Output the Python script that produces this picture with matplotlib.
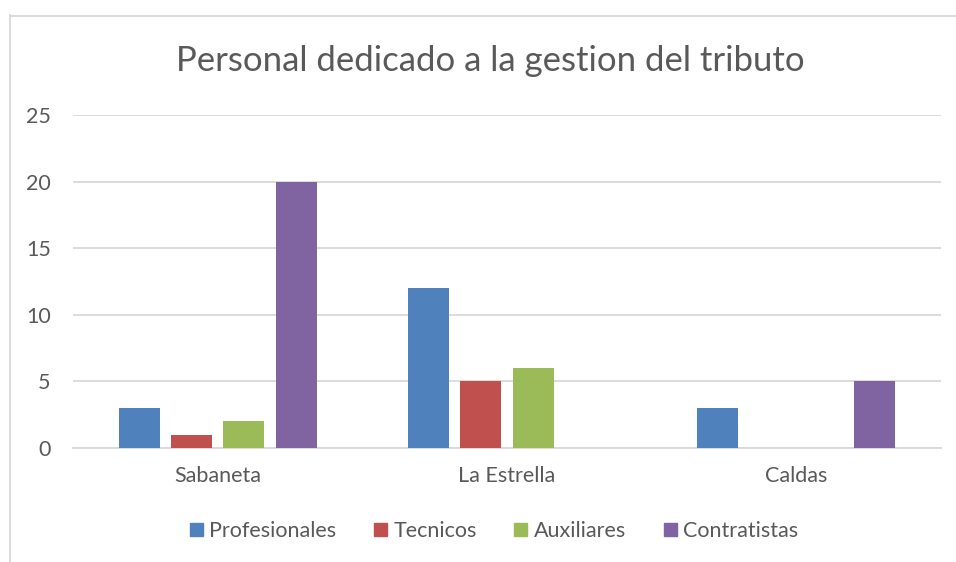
import matplotlib.pyplot as plt
from matplotlib.lines import Line2D
import numpy as np

# data
municipios = ['Sabaneta', 'La Estrella', 'Caldas']
series = ['Profesionales', 'Tecnicos', 'Auxiliares', 'Contratistas']
profesionales = [3, 12, 3]
tecnicos = [1, 5, 0]
auxiliares = [2, 6, 0]
contratistas = [20, 0, 5]
colores = ['#4F81BD', '#C0504D', '#9BBB59', '#8064A2']

valores = [profesionales, tecnicos, auxiliares, contratistas]
txt = '#595959'
plt.rcParams['font.family'] = ['Lato', 'DejaVu Sans']

fig = plt.figure(figsize=(9.56, 5.62), dpi=100)
ax = fig.add_axes([73/956, 1-448/562, (941-73)/956, (448-115)/562])

x = np.arange(len(municipios))
paso = 0.181
ancho = 0.142
for i, (nombre, vals) in enumerate(zip(series, valores)):
    ax.bar(x + (i-1.5)*paso, vals, width=ancho, color=colores[i], label=nombre, zorder=3)

ax.set_xlim(-0.5, 2.5)
ax.set_ylim(0, 25)
ax.set_yticks([0, 5, 10, 15, 20, 25])
ax.set_xticks(x)
ax.set_xticklabels(municipios)
ax.grid(axis='y', color='#d9d9d9', linewidth=1.3, zorder=0)
for s in ['top', 'right', 'left']:
    ax.spines[s].set_visible(False)
ax.spines['bottom'].set_color('#d9d9d9')
ax.spines['bottom'].set_linewidth(1.3)
ax.tick_params(axis='both', length=0, labelsize=15.5, colors=txt)
ax.tick_params(axis='y', pad=16)
ax.tick_params(axis='x', pad=13)

fig.text(490/956, 1-61/562, 'Personal dedicado a la gestion del tributo',
         ha='center', va='center', fontsize=25, color=txt)

handles = [plt.Rectangle((0, 0), 1, 1, color=c) for c in colores]
leg = fig.legend(handles, series, loc='center', bbox_to_anchor=(494/956, 1-531/562),
                 ncol=4, frameon=False, fontsize=15.5, handlelength=0.6, handleheight=0.6,
                 handletextpad=0.3, columnspacing=1.75)
for t in leg.get_texts():
    t.set_color(txt)

# chart border (partly cut off in the reference)
fig.add_artist(Line2D([9.5/956, 9.5/956], [0, 1-15/562], color='#d9d9d9', lw=1.3))
fig.add_artist(Line2D([9.5/956, 1], [1-15.5/562, 1-15.5/562], color='#d9d9d9', lw=1.3))

fig.savefig('out.png', dpi=100)
